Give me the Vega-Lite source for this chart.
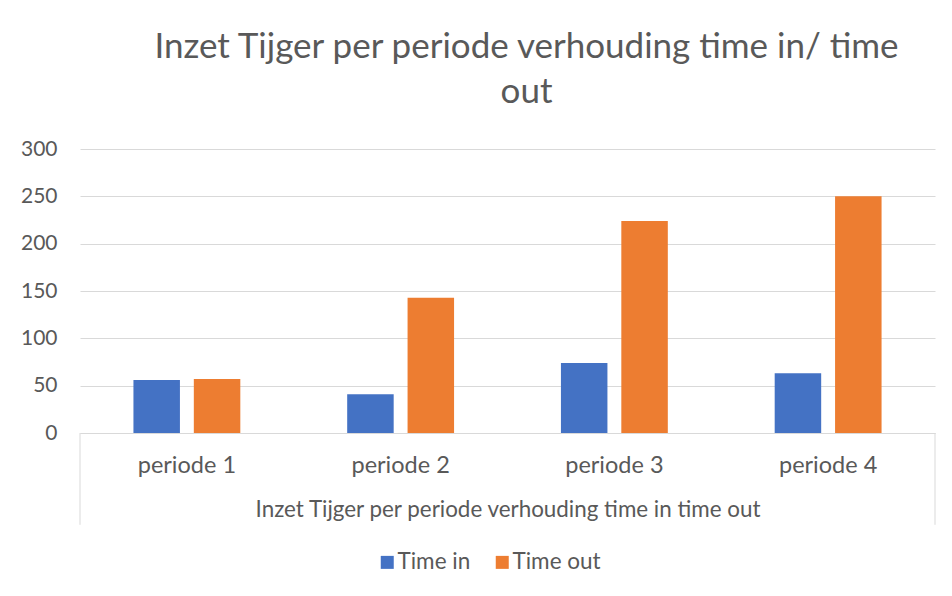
{
  "$schema": "https://vega.github.io/schema/vega-lite/v6.json",
  "width": 855,
  "height": 284,
  "autosize": {"type": "none"},
  "padding": {"left": 80, "top": 149, "right": 17, "bottom": 163},
  "background": "white",
  "config": {"view": {"stroke": null}, "font": "Lato"},
  "title": {
    "text": ["Inzet Tijger per periode verhouding time in/ time", "out"],
    "font": "Lato",
    "fontSize": 35,
    "fontWeight": "normal",
    "color": "#595959",
    "anchor": "middle",
    "dx": 19,
    "offset": 28,
    "lineHeight": 45
  },
  "data": {
    "values": [
      {"periode": "periode 1", "serie": "Time in", "waarde": 56},
      {"periode": "periode 1", "serie": "Time out", "waarde": 57},
      {"periode": "periode 2", "serie": "Time in", "waarde": 41},
      {"periode": "periode 2", "serie": "Time out", "waarde": 143},
      {"periode": "periode 3", "serie": "Time in", "waarde": 74},
      {"periode": "periode 3", "serie": "Time out", "waarde": 224},
      {"periode": "periode 4", "serie": "Time in", "waarde": 63},
      {"periode": "periode 4", "serie": "Time out", "waarde": 250}
    ]
  },
  "layer": [
    {
      "mark": {"type": "bar"},
      "encoding": {
        "x": {
          "field": "periode",
          "type": "nominal",
          "scale": {"paddingInner": 0.5, "paddingOuter": 0.25},
          "title": "Inzet Tijger per periode verhouding time in time out",
          "axis": {
            "labelAngle": 0,
            "domain": true,
            "domainColor": "#d9d9d9",
            "domainWidth": 1,
            "ticks": false,
            "labelPadding": 20,
            "labelFont": "Lato",
            "labelFontSize": 23.5,
            "labelColor": "#595959",
            "titleFont": "Lato",
            "titleFontSize": 22.4,
            "titleFontWeight": "normal",
            "titleColor": "#595959",
            "titlePadding": 22
          }
        },
        "xOffset": {
          "field": "serie",
          "type": "nominal",
          "scale": {"paddingInner": 0.23, "paddingOuter": 0}
        },
        "y": {
          "field": "waarde",
          "type": "quantitative",
          "scale": {"domain": [0, 300]},
          "axis": {
            "title": null,
            "values": [0, 50, 100, 150, 200, 250, 300],
            "domain": false,
            "ticks": false,
            "grid": true,
            "gridColor": "#d9d9d9",
            "gridWidth": 1,
            "labelPadding": 23,
            "labelFont": "Lato",
            "labelFontSize": 21,
            "labelColor": "#595959"
          }
        },
        "color": {
          "field": "serie",
          "type": "nominal",
          "scale": {"domain": ["Time in", "Time out"], "range": ["#4472C4", "#ED7D31"]},
          "legend": {
            "title": null,
            "orient": "none",
            "direction": "horizontal",
            "legendX": 296,
            "legendY": 402,
            "symbolType": "square",
            "symbolSize": 169,
            "symbolStrokeWidth": 0,
            "labelFont": "Lato",
            "labelFontSize": 22.5,
            "labelColor": "#595959",
            "labelOffset": -1,
            "columnPadding": 20
          }
        }
      }
    },
    {
      "data": {"values": [{}]},
      "mark": {"type": "rule", "clip": false, "color": "#d9d9d9", "strokeWidth": 1},
      "encoding": {
        "x": {"datum": "periode 1", "bandPosition": -0.5},
        "y": {"datum": 0},
        "y2": {"datum": -97}
      }
    },
    {
      "data": {"values": [{}]},
      "mark": {"type": "rule", "clip": false, "color": "#d9d9d9", "strokeWidth": 1},
      "encoding": {
        "x": {"datum": "periode 4", "bandPosition": 1.5},
        "y": {"datum": 0},
        "y2": {"datum": -97}
      }
    }
  ]
}
